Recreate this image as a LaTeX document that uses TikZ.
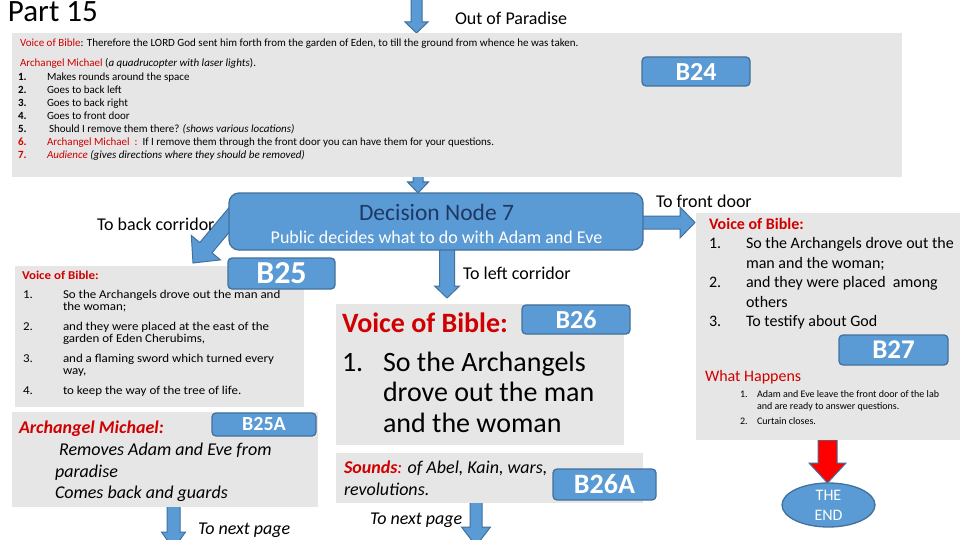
\documentclass[tikz,border=0pt]{standalone}
\usepackage{fontspec}
\setmainfont{Carlito}
\newfontfamily\widefont[FakeStretch=1.08]{Carlito}
\usetikzlibrary{calc,shapes.geometric}
\definecolor{bfill}{HTML}{5B9BD5}
\definecolor{bline}{HTML}{41719C}
\definecolor{gbox}{HTML}{E6E6E6}
\definecolor{vred}{HTML}{D00000}
\definecolor{navy}{HTML}{1F3864}
\newcommand\fs[1]{\fontsize{#1}{#1}\selectfont}
\newcommand\blockarrow[6][barr]{%
  \coordinate (hb) at ($(#3)!#6!(#2)$);
  \draw[#1] ($(#2)!#4!90:(#3)$) -- ($(hb)!#4!90:(#3)$) -- ($(hb)!#5!90:(#3)$) -- (#3)
    -- ($(hb)!#5!-90:(#3)$) -- ($(hb)!#4!-90:(#3)$) -- ($(#2)!#4!-90:(#3)$) -- cycle;}
\tikzset{
  graybox/.style={fill=gbox, draw=none},
  lbl/.style={anchor=base west, inner sep=0pt, outer sep=0pt},
  ctr/.style={anchor=base, inner sep=0pt, outer sep=0pt},
  bbox/.style={draw=bline, fill=bfill, line width=1.3pt, rounded corners=4pt, inner sep=0pt},
  btext/.style={text=white, anchor=center, inner sep=0pt},
  barr/.style={fill=bfill, draw=bline, line width=1pt, line join=miter},
  rarr/.style={fill=red, draw=bline, line width=1pt, line join=miter},
}
\begin{document}
\begin{tikzpicture}[x=1pt,y=-1pt]
\useasboundingbox (0,0) rectangle (960,540);
\fill[white] (0,0) rectangle (960,540);

% ---------- arrows (behind boxes) ----------
\coordinate (a0s) at (416.5,-10); \coordinate (a0t) at (416.5,33);
\blockarrow{a0s}{a0t}{5.5pt}{11.5pt}{11pt}
\coordinate (a1s) at (418,170); \coordinate (a1t) at (418,193);
\blockarrow{a1s}{a1t}{5pt}{10.5pt}{11pt}
\coordinate (a2s) at (240,207); \coordinate (a2t) at (193,263);
\blockarrow{a2s}{a2t}{8pt}{19pt}{20pt}
\coordinate (a3s) at (447,245); \coordinate (a3t) at (447,298);
\blockarrow{a3s}{a3t}{7.5pt}{12.5pt}{12pt}
\coordinate (a4s) at (630,222.5); \coordinate (a4t) at (695,222.5);
\blockarrow{a4s}{a4t}{6.5pt}{15.5pt}{15pt}
\coordinate (a5s) at (173.5,503); \coordinate (a5t) at (173.5,549);
\blockarrow{a5s}{a5t}{6.5pt}{12pt}{17pt}
\coordinate (a6s) at (476,500); \coordinate (a6t) at (476,546);
\blockarrow{a6s}{a6t}{6pt}{14.5pt}{19pt}
\coordinate (a7s) at (827.5,440); \coordinate (a7t) at (827.5,483);
\blockarrow[rarr]{a7s}{a7t}{9.5pt}{18.5pt}{20pt}

% ---------- title ----------
\node[lbl, font=\fs{31}] (title) at (8,22) {Part 15};
\node[lbl, font=\fs{18}] (outp) at (455,25) {Out of Paradise};

% ---------- top box ----------
\path[graybox] (12,33) rectangle (902,177);
\begin{scope}[every node/.append style={lbl, font=\fs{11}}]
\node (tv) at (20,47) {{\color{vred}Voice of Bible}: Therefore the LORD God sent him forth from the garden of Eden, to till the ground from whence he was taken.};
\node (tam) at (20,67) {{\color{vred}Archangel Michael} (\textit{a quadrucopter with laser lights}).};
\node (n1) at (18,81) {\textbf{1.}};  \node (i1) at (47,81) {Makes rounds around the space};
\node (n2) at (18,94) {\textbf{2.}};  \node (i2) at (47,94) {Goes to back left};
\node (n3) at (18,107) {\textbf{3.}}; \node (i3) at (47,107) {Goes to back right};
\node (n4) at (18,120) {\textbf{4.}}; \node (i4) at (47,120) {Goes to front door};
\node (n5) at (18,133) {\textbf{5.}}; \node (i5) at (49,133) {Should I remove them there? \textit{(shows various locations)}};
\node (n6) at (18,146) {\textcolor{vred}{\textbf{6.}}}; \node (i6) at (47,146) {{\color{vred}Archangel Michael\ \ :}\ \ If I remove them through the front door you can have them for your questions.};
\node (n7) at (18,159) {\textcolor{vred}{\textbf{7.}}}; \node (i7) at (47,159) {\textit{{\color{vred}Audience} (gives directions where they should be removed)}};
\end{scope}
\node[bbox, minimum width=108pt, minimum height=29pt] (b24) at (696,71.5) {};
\node[btext, font=\fs{26}\bfseries] (b24t) at (b24.center) {B24};

% ---------- decision node ----------
\node[bbox, rounded corners=10pt, minimum width=414pt, minimum height=57pt] (dec) at (436,221.5) {};
\node[ctr, font=\fs{23.5}, text=navy] (dect) at (436.5,220) {Decision Node 7};
\node[ctr, font=\fs{18}, text=white] (decs) at (436.5,243) {Public decides what to do with Adam and Eve};

\node[lbl, font=\fs{18}] (tbc) at (97,230) {To back corridor};
\node[lbl, font=\fs{18}] (tlc) at (463,279) {To left corridor};
\node[lbl, font=\fs{18}] (tfd) at (656,207) {To front door};

% ---------- B25 left box ----------
\path[graybox] (15,266) rectangle (304,407);
\begin{scope}[every node/.append style={lbl, font=\widefont\fs{12}}]
\node (lv) at (22,279) {\textbf{\color{vred}Voice of Bible:}};
\node (ln1) at (23,298) {1.}; \node (l1a) at (63,298) {So the Archangels drove out the man and};
\node (l1b) at (63,310) {the woman;};
\node (ln2) at (23,330) {2.}; \node (l2a) at (63,330) {and they were placed at the east of the};
\node (l2b) at (63,342) {garden of Eden Cherubims,};
\node (ln3) at (23,362) {3.}; \node (l3a) at (63,362) {and a flaming sword which turned every};
\node (l3b) at (63,374) {way,};
\node (ln4) at (23,394) {4.}; \node (l4a) at (63,394) {to keep the way of the tree of life.};
\end{scope}
\node[bbox, minimum width=107pt, minimum height=31pt] (b25) at (281.5,273.5) {};
\node[btext, font=\fs{32}\bfseries] (b25t) at (b25.center) {B25};

% ---------- B25A ----------
\path[graybox] (12,412) rectangle (318,507);
\node[bbox, minimum width=104pt, minimum height=23pt] (b25a) at (264,424.5) {};
\node[btext, font=\fs{20}\bfseries] (b25at) at (b25a.center) {B25A};
\begin{scope}[every node/.append style={lbl, font=\fs{18}\itshape}]
\node (am) at (19,433) {\textbf{\color{vred}Archangel Michael:}};
\node (am1) at (55,455) {\ Removes Adam and Eve from};
\node (am2) at (55,477) {paradise};
\node (am3) at (55,498) {Comes back and guards};
\node (np1) at (198,534) {To next page};
\end{scope}

% ---------- B26 ----------
\path[graybox] (336,304) rectangle (624,445);
\node[lbl, font=\fs{28}\bfseries, text=vred] (mv) at (342,332) {Voice of Bible:};
\node[bbox, minimum width=108pt, minimum height=29pt] (b26) at (576,319.5) {};
\node[btext, font=\fs{26}\bfseries] (b26t) at (b26.center) {B26};
\begin{scope}[every node/.append style={lbl, font=\fs{28}}]
\node (mn1) at (342,371) {1.};
\node (m1) at (383,371) {So the Archangels};
\node (m2) at (383,401.5) {drove out the man};
\node (m3) at (383,432) {and the woman};
\end{scope}

\path[graybox] (336,453) rectangle (643,503);
\begin{scope}[every node/.append style={lbl, font=\fs{18}\itshape}]
\node (snd1) at (344,473) {{\color{vred}\textbf{Sounds}:} of Abel, Kain, wars,};
\node (snd2) at (344,495) {revolutions.};
\node (np2) at (370,524) {To next page};
\end{scope}
\node[bbox, minimum width=103pt, minimum height=31pt] (b26a) at (604.5,484.5) {};
\node[btext, font=\fs{28}\bfseries] (b26at) at (b26a.center) {B26A};

% ---------- B27 right box ----------
\path[graybox] (696,213) rectangle (960,440);
\begin{scope}[every node/.append style={lbl, font=\fs{16}}]
\node (rv) at (709,229) {\textbf{\color{vred}Voice of Bible:}};
\node (rn1) at (709,248.5) {1.}; \node (r1a) at (746,248.5) {So the Archangels drove out the};
\node (r1b) at (746,268) {man and the woman;};
\node (rn2) at (709,287.5) {2.}; \node (r2a) at (746,287.5) {and they were placed\ \ among};
\node (r2b) at (746,307) {others};
\node (rn3) at (709,326.5) {3.}; \node (r3a) at (746,326.5) {To testify about God};
\node (wh) at (705,381) {\color{vred}What Happens};
\end{scope}
\node[bbox, minimum width=109pt, minimum height=30pt] (b27) at (893.5,350) {};
\node[btext, font=\fs{27}\bfseries] (b27t) at (b27.center) {B27};
\begin{scope}[every node/.append style={lbl, font=\fs{10}}]
\node (wn1) at (740,397) {1.}; \node (w1a) at (757,397) {Adam and Eve leave the front door of the lab};
\node (w1b) at (757,409) {and are ready to answer questions.};
\node (wn2) at (740,424) {2.}; \node (w2a) at (757,424) {Curtain closes.};
\end{scope}

% ---------- THE END ----------
\node[ellipse, draw=bline, fill=bfill, line width=1.3pt, minimum width=93pt, minimum height=44pt, inner sep=0pt] (end) at (828.5,505) {};
\node[ctr, font=\fs{16}, text=white] (end1) at (828.5,500) {THE};
\node[ctr, font=\fs{16}, text=white] (end2) at (828.5,520) {END};
\end{tikzpicture}
\end{document}
